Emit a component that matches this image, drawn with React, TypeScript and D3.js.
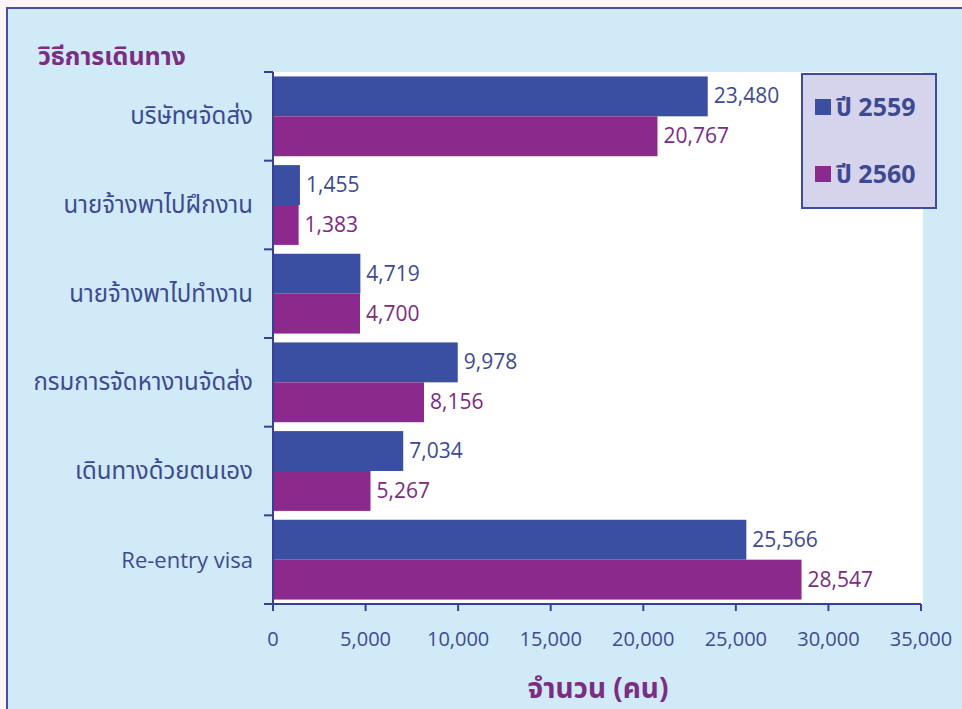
import React from "react";
import * as d3 from "d3";

const categories = [
  "บริษัทฯจัดส่ง",
  "นายจ้างพาไปฝึกงาน",
  "นายจ้างพาไปทำงาน",
  "กรมการจัดหางานจัดส่ง",
  "เดินทางด้วยตนเอง",
  "Re-entry visa",
];
const series2559 = [23480, 1455, 4719, 9978, 7034, 25566];
const series2560 = [20767, 1383, 4700, 8156, 5267, 28547];
const seriesNames = ["ปี 2559", "ปี 2560"];
const xTicks = [0, 5000, 10000, 15000, 20000, 25000, 30000, 35000];

const W = 962;
const H = 709;
const BLUE = "#3a4fa1";
const PURPLE = "#8b2a8c";
const LABEL_BLUE = "#3d4a92";
const LABEL_PURPLE = "#7d2b80";
const FONT = "'Open Sans', 'Noto Sans', 'Noto Sans Thai', Tahoma, sans-serif";

export default function App() {
  const left = 273;
  const right = 921;
  const top = 72;
  const bottom = 604;

  const x = d3.scaleLinear().domain([0, 35000]).range([left, right]);
  const y = d3.scaleBand<string>().domain(categories).range([top, bottom]).paddingInner(0.1).paddingOuter(0.05);
  const sub = d3.scaleBand<string>().domain(["a", "b"]).range([0, y.bandwidth()]);
  const fmt = d3.format(",");
  const series = [
    { vals: series2559, color: BLUE, lc: LABEL_BLUE, key: "a" },
    { vals: series2560, color: PURPLE, lc: LABEL_PURPLE, key: "b" },
  ];

  return (
    <svg width={W} height={H} style={{ position: "absolute", left: 0, top: 0 }} fontFamily={FONT}>
      <rect x={0} y={0} width={W} height={H} fill="#fdf4f7" />
      <rect x={7} y={8} width={W} height={H} fill="#d1eaf7" stroke="#4a4fa5" strokeWidth={2} />
      <rect x={left} y={top} width={right - left + 2} height={bottom - top} fill="#ffffff" />

      <text x={38} y={65} fill="#7b2d83" fontSize={25} fontWeight="bold">วิธีการเดินทาง</text>

      {categories.map((c, i) =>
        series.map((s) => {
          const v = s.vals[i];
          const yy = (y(c) as number) + (sub(s.key) as number);
          return (
            <g key={c + s.key}>
              <rect x={x(0)} y={yy} width={x(v) - x(0)} height={sub.bandwidth()} fill={s.color} />
              <text x={x(v) + 6} y={yy + sub.bandwidth() / 2 + 7} fill={s.lc} fontSize={21}>{fmt(v)}</text>
            </g>
          );
        })
      )}

      {categories.map((c, i) => (
        <text key={c} x={253} y={(y(c) as number) + y.bandwidth() / 2 + 8} textAnchor="end" fill={LABEL_BLUE} fontSize={i === 5 ? 22 : 24}>{c}</text>
      ))}

      {/* y axis */}
      <line x1={left} x2={left} y1={top} y2={bottom} stroke="#3a3f95" strokeWidth={2} />
      {d3.range(categories.length + 1).map((i) => (
        <line key={i} x1={left - 9} x2={left} y1={top + i * (bottom - top) / categories.length} y2={top + i * (bottom - top) / categories.length} stroke="#3a3f95" strokeWidth={2} />
      ))}
      {/* x axis */}
      <line x1={left} x2={right} y1={bottom} y2={bottom} stroke="#3a3f95" strokeWidth={2} />
      {xTicks.map((t) => (
        <g key={t}>
          <line x1={x(t)} x2={x(t)} y1={bottom} y2={bottom + 7} stroke="#3a3f95" strokeWidth={2} />
          <text x={x(t)} y={646} textAnchor="middle" fill={LABEL_BLUE} fontSize={20}>{fmt(t)}</text>
        </g>
      ))}
      <text x={598} y={698} textAnchor="middle" fill="#7b2d83" fontSize={28} fontWeight="bold">จำนวน (คน)</text>

      {/* legend */}
      <rect x={802} y={74} width={134} height={134} fill="#d5d4ec" stroke="#3e4c9e" strokeWidth={2} />
      {seriesNames.map((n, i) => (
        <g key={n}>
          <rect x={815} y={99 + i * 67} width={16} height={16} fill={i === 0 ? BLUE : PURPLE} />
          <text x={836} y={116 + i * 67} fill={LABEL_BLUE} fontSize={25} fontWeight="bold">{n}</text>
        </g>
      ))}
    </svg>
  );
}
